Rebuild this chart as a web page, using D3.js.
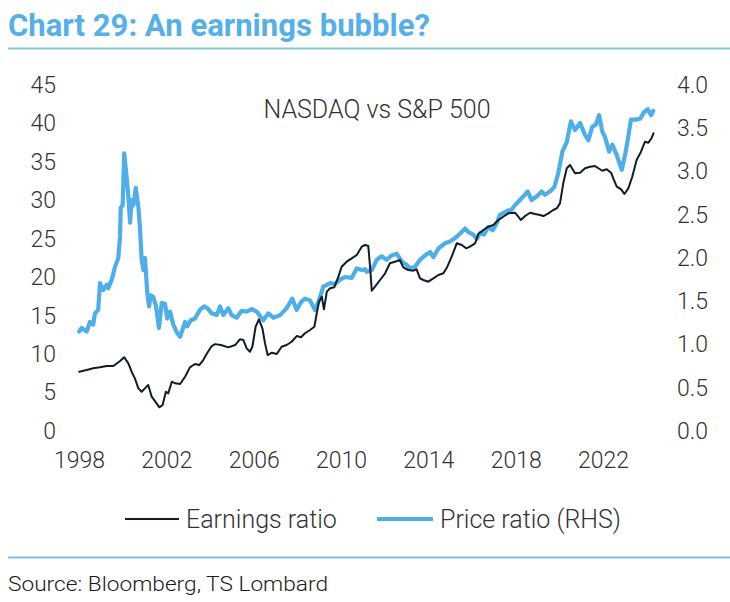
<!DOCTYPE html>
<html>
<head>
<meta charset="utf-8">
<script src="https://cdn.jsdelivr.net/npm/d3@7"></script>
<style>
  html, body { margin: 0; padding: 0; background: #ffffff; }
  svg { display: block; }
  text { font-family: Roboto, "Noto Sans", sans-serif; }
</style>
</head>
<body>
<svg id="chart" width="730" height="602"></svg>
<script>
// ---- Data ----
const xTickYears = [1998, 2002, 2006, 2010, 2014, 2018, 2022];
const leftTicks = [0, 5, 10, 15, 20, 25, 30, 35, 40, 45];
const rightTicks = [0, 0.5, 1.0, 1.5, 2.0, 2.5, 3.0, 3.5, 4.0];

// Earnings ratio (left axis)
const earnDates = [1998.01,1998.35,1998.65,1998.96,1999.27,1999.57,1999.88,2000.07,2000.26,2000.41,2000.56,2000.72,2000.87,2001.02,2001.17,2001.33,2001.53,2001.68,2001.83,2001.98,2002.09,2002.25,2002.40,2002.63,2002.86,2003.08,2003.31,2003.51,2003.69,2003.88,2004.08,2004.23,2004.50,2004.84,2005.15,2005.37,2005.53,2005.68,2005.83,2005.94,2006.09,2006.24,2006.40,2006.52,2006.64,2006.83,2007.06,2007.28,2007.51,2007.74,2007.97,2008.17,2008.35,2008.58,2008.78,2008.89,2008.99,2009.12,2009.22,2009.35,2009.50,2009.69,2009.88,2010.03,2010.26,2010.49,2010.72,2010.95,2011.10,2011.25,2011.33,2011.41,2011.56,2011.79,2012.02,2012.24,2012.47,2012.70,2012.85,2013.08,2013.31,2013.46,2013.62,2013.77,2014.00,2014.23,2014.46,2014.69,2014.87,2015.07,2015.30,2015.53,2015.73,2015.91,2016.14,2016.29,2016.52,2016.75,2016.98,2017.21,2017.43,2017.66,2017.97,2018.12,2018.24,2018.43,2018.66,2018.89,2019.11,2019.27,2019.50,2019.72,2019.88,2020.03,2020.18,2020.34,2020.49,2020.72,2020.95,2021.18,2021.41,2021.63,2021.79,2021.97,2022.17,2022.37,2022.47,2022.63,2022.83,2022.98,2023.16,2023.34,2023.54,2023.74,2023.92,2024.08,2024.22,2024.31];
const earnValues = [7.71,7.93,8.15,8.28,8.45,8.45,9.10,9.58,8.80,7.71,6.85,5.55,5.11,5.55,5.98,4.46,3.68,3.08,3.38,5.11,4.90,6.41,6.20,6.11,7.06,8.28,8.71,8.58,9.23,10.18,11.05,11.30,11.18,10.88,11.18,11.92,11.83,10.75,10.31,10.96,13.56,14.52,13.36,11.41,9.88,10.18,10.01,10.96,11.18,11.61,12.35,12.19,12.71,13.14,13.56,15.31,16.82,17.47,15.83,18.12,18.56,18.69,20.07,21.37,22.02,22.46,22.89,23.97,24.19,24.06,21.37,18.25,18.77,19.64,20.51,21.81,22.02,22.24,21.29,20.94,20.85,21.03,19.86,19.64,19.42,19.86,20.29,20.51,21.37,22.67,24.41,24.19,23.76,23.97,24.41,25.62,26.14,26.57,26.79,27.44,27.87,28.31,28.39,27.87,27.44,27.96,28.39,28.22,28.09,27.96,28.31,28.74,28.96,29.61,32.21,34.17,34.59,33.51,33.59,34.17,34.37,34.46,34.17,33.85,34.04,33.59,32.86,31.77,31.43,30.82,31.56,33.07,35.25,36.32,37.62,37.50,38.07,38.72];

// Price ratio (right axis)
const priceDates = [1998.01,1998.12,1998.35,1998.50,1998.65,1998.73,1998.88,1998.96,1999.11,1999.27,1999.34,1999.50,1999.65,1999.80,1999.88,1999.91,2000.00,2000.07,2000.18,2000.26,2000.34,2000.41,2000.49,2000.60,2000.72,2000.79,2000.87,2000.95,2001.02,2001.13,2001.21,2001.28,2001.40,2001.53,2001.66,2001.79,2001.94,2002.04,2002.17,2002.32,2002.50,2002.63,2002.86,2002.96,2003.12,2003.31,2003.54,2003.73,2003.88,2004.08,2004.31,2004.46,2004.61,2004.84,2004.99,2005.22,2005.45,2005.68,2005.91,2006.14,2006.44,2006.67,2006.90,2007.21,2007.51,2007.77,2007.97,2008.17,2008.35,2008.58,2008.81,2008.99,2009.19,2009.50,2009.73,2009.95,2010.18,2010.49,2010.72,2010.95,2011.10,2011.18,2011.41,2011.64,2011.86,2012.09,2012.32,2012.55,2012.78,2013.01,2013.16,2013.39,2013.62,2013.85,2014.08,2014.23,2014.46,2014.76,2014.99,2015.22,2015.45,2015.68,2015.83,2016.06,2016.22,2016.37,2016.55,2016.75,2016.95,2017.13,2017.28,2017.43,2017.66,2017.74,2017.97,2018.12,2018.35,2018.55,2018.73,2018.96,2019.19,2019.34,2019.57,2019.77,2019.95,2020.14,2020.34,2020.53,2020.72,2020.95,2021.18,2021.33,2021.51,2021.67,2021.82,2021.97,2022.09,2022.28,2022.43,2022.63,2022.86,2023.01,2023.13,2023.28,2023.50,2023.70,2023.89,2024.05,2024.20,2024.30];
const priceValues = [1.15,1.19,1.15,1.26,1.23,1.36,1.40,1.71,1.63,1.69,1.65,1.75,1.90,2.00,2.25,2.58,2.61,3.21,2.94,2.71,2.41,2.67,2.61,2.81,2.59,2.36,1.98,1.86,2.00,1.59,1.44,1.57,1.55,1.44,1.19,1.48,1.47,1.30,1.38,1.23,1.13,1.09,1.26,1.21,1.28,1.30,1.40,1.44,1.42,1.36,1.34,1.44,1.34,1.42,1.34,1.31,1.39,1.38,1.41,1.38,1.28,1.36,1.31,1.34,1.42,1.53,1.40,1.49,1.53,1.51,1.40,1.51,1.67,1.71,1.70,1.75,1.78,1.77,1.88,1.86,1.87,1.84,1.86,1.98,2.02,1.98,2.03,2.05,1.96,1.92,1.88,1.90,1.98,2.03,2.07,2.01,2.11,2.17,2.19,2.23,2.28,2.34,2.30,2.27,2.22,2.29,2.27,2.36,2.32,2.40,2.50,2.52,2.55,2.54,2.61,2.65,2.71,2.77,2.67,2.71,2.77,2.73,2.77,2.82,2.98,3.23,3.34,3.58,3.48,3.56,3.42,3.36,3.52,3.54,3.65,3.46,3.40,3.23,3.31,3.19,3.02,3.19,3.36,3.60,3.60,3.61,3.69,3.72,3.65,3.70];

const titleText = "Chart 29: An earnings bubble?";
const annotationText = "NASDAQ vs S&P 500";
const legendLabels = ["Earnings ratio", "Price ratio (RHS)"];
const sourceText = "Source: Bloomberg, TS Lombard";

// ---- Drawing ----
const svg = d3.select("#chart");
const colBlue = "#4daeea";
const colDark = "#0f1c2b";
const colText = "#333333";

// Title
svg.append("text")
  .attr("x", 8).attr("y", 36)
  .attr("fill", "#55b0e8")
  .attr("font-size", 31).attr("font-weight", 700)
  .attr("textLength", 422).attr("lengthAdjust", "spacingAndGlyphs")
  .text(titleText);

svg.append("line").attr("x1", 8).attr("x2", 730).attr("y1", 48.5).attr("y2", 48.5)
  .attr("stroke", "#88c3d2").attr("stroke-width", 2);

// Scales
const x = d3.scaleLinear().domain([1998, 2022]).range([79, 603]);
const yL = d3.scaleLinear().domain([0, 45]).range([431, 85]);
const yR = d3.scaleLinear().domain([0, 4]).range([431, 85]);

// Axes
const fontTick = 23;
const gx = svg.append("g").attr("transform", "translate(0,452)")
  .call(d3.axisBottom(x).tickValues(xTickYears).tickFormat(d3.format("d")).tickSize(0).tickPadding(0));
const gl = svg.append("g").attr("transform", "translate(56,0)")
  .call(d3.axisLeft(yL).tickValues(leftTicks).tickFormat(d3.format("d")).tickSize(0).tickPadding(0));
const gr = svg.append("g").attr("transform", "translate(677,0)")
  .call(d3.axisRight(yR).tickValues(rightTicks).tickFormat(d3.format(".1f")).tickSize(0).tickPadding(0));
[gx, gl, gr].forEach(g => {
  g.select(".domain").remove();
  g.selectAll("text").attr("font-size", fontTick).attr("font-weight", 300)
    .attr("fill", colText).attr("font-family", "Roboto, sans-serif");
});
gx.selectAll("text").attr("dy", "0.71em");

// Annotation
svg.append("text").attr("x", 377).attr("y", 118).attr("text-anchor", "middle")
  .attr("font-size", 25).attr("font-weight", 300).attr("fill", colText)
  .text(annotationText);

// Lines
const priceData = priceDates.map((d, i) => [d, priceValues[i]]);
const earnData = earnDates.map((d, i) => [d, earnValues[i]]);

svg.append("path").datum(priceData)
  .attr("fill", "none").attr("stroke", colBlue).attr("stroke-width", 4.2)
  .attr("stroke-linejoin", "round").attr("stroke-linecap", "round")
  .attr("d", d3.line().x(d => x(d[0])).y(d => yR(d[1])));

svg.append("path").datum(earnData)
  .attr("fill", "none").attr("stroke", colDark).attr("stroke-width", 2)
  .attr("stroke-linejoin", "round").attr("stroke-linecap", "round")
  .attr("d", d3.line().x(d => x(d[0])).y(d => yL(d[1])));

// Legend
const legY = 519;
svg.append("line").attr("x1", 125).attr("x2", 179).attr("y1", legY).attr("y2", legY)
  .attr("stroke", colDark).attr("stroke-width", 2);
svg.append("text").attr("x", 186).attr("y", legY + 9)
  .attr("font-size", 25).attr("font-weight", 300).attr("fill", colText)
  .text(legendLabels[0]);
svg.append("line").attr("x1", 377).attr("x2", 433).attr("y1", legY).attr("y2", legY)
  .attr("stroke", colBlue).attr("stroke-width", 4.2);
svg.append("text").attr("x", 440).attr("y", legY + 9)
  .attr("font-size", 25).attr("font-weight", 300).attr("fill", colText)
  .text(legendLabels[1]);

// Bottom rule + source
svg.append("line").attr("x1", 8).attr("x2", 730).attr("y1", 557.5).attr("y2", 557.5)
  .attr("stroke", "#7cbfe6").attr("stroke-width", 2);
svg.append("text").attr("x", 8).attr("y", 591)
  .attr("font-size", 21).attr("font-weight", 300).attr("fill", "#1a1a1a")
  .attr("textLength", 320).attr("lengthAdjust", "spacingAndGlyphs")
  .text(sourceText);
</script>
</body>
</html>
